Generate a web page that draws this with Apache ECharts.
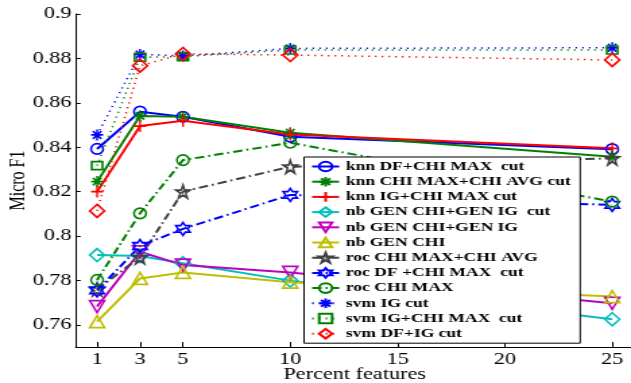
<!DOCTYPE html>
<html>
<head>
<meta charset="utf-8">
<script src="https://cdn.jsdelivr.net/npm/echarts@6/dist/echarts.min.js"></script>
<style>
html,body{margin:0;padding:0;background:#fff;overflow:hidden;}
#wrap{width:631px;height:383px;overflow:hidden;position:relative;}
#c{width:470px;height:383px;transform:scaleX(1.3483);transform-origin:0 0;}
</style>
</head>
<body>
<div id="wrap"><div id="c"></div></div>
<script>
// ---- data ----
const xValues = [1, 3, 5, 10, 25];
const xTickValues = [1, 3, 5, 10, 15, 20, 25];
const yTickValues = [0.76, 0.78, 0.8, 0.82, 0.84, 0.86, 0.88, 0.9];
const seriesNames = [
  'knn DF+CHI MAX  cut',
  'knn CHI MAX+CHI AVG cut',
  'knn IG+CHI MAX cut',
  'nb GEN CHI+GEN IG  cut',
  'nb GEN CHI+GEN IG',
  'nb GEN CHI',
  'roc CHI MAX+CHI AVG',
  'roc DF +CHI MAX  cut',
  'roc CHI MAX',
  'svm IG cut',
  'svm IG+CHI MAX  cut',
  'svm DF+IG cut'
];
const knnDfChiMaxCut   = [0.8392, 0.8560, 0.8537, 0.8447, 0.8391];
const knnChiMaxChiAvg  = [0.8245, 0.8541, 0.8537, 0.8465, 0.8357];
const knnIgChiMaxCut   = [0.8200, 0.8495, 0.8519, 0.8457, 0.8395];
const nbGenChiGenIgCut = [0.7914, 0.7910, 0.7877, 0.7799, 0.7625];
const nbGenChiGenIg    = [0.7682, 0.7929, 0.7869, 0.7836, 0.7697];
const nbGenChi         = [0.7614, 0.7809, 0.7836, 0.7792, 0.7727];
const rocChiMaxChiAvg  = [0.7760, 0.7904, 0.8200, 0.8312, 0.8350];
const rocDfChiMaxCut   = [0.7755, 0.7955, 0.8032, 0.8185, 0.8140];
const rocChiMax        = [0.7802, 0.8102, 0.8342, 0.8420, 0.8155];
const svmIgCut         = [0.8455, 0.8818, 0.8811, 0.8845, 0.8848];
const svmIgChiMaxCut   = [0.8317, 0.8805, 0.8808, 0.8838, 0.8838];
const svmDfIgCut       = [0.8113, 0.8767, 0.8820, 0.8815, 0.8793];

// ---- styles ----
const SYM = {
  circle: 'circle',
  asterisk: 'path://M0,5L10,5M5,0L5,10M1.5,1.5L8.5,8.5M8.5,1.5L1.5,8.5',
  plus: 'path://M0,5L10,5M5,0L5,10',
  diamond: 'path://M5,0L10,5L5,10L0,5Z',
  triDown: 'path://M0,0L10,0L5,9Z',
  triUp: 'path://M5,0L10,9L0,9Z',
  square: 'path://M0,0L10,0L10,10L0,10Z',
  pentagram: 'path://M5,0L6.12,3.455L9.755,3.455L6.82,5.59L7.94,9.045L5,6.91L2.06,9.045L3.18,5.59L0.245,3.455L3.88,3.455Z',
  hexagram: 'path://M5,0L6.44,2.5L9.33,2.5L7.89,5L9.33,7.5L6.44,7.5L5,10L3.56,7.5L0.67,7.5L2.11,5L0.67,2.5L3.56,2.5Z'
};
const DASHDOT = [7, 3, 1.5, 3];
const DOT = [1.2, 3.8];
const FONT = 'Liberation Serif';

function mk(name, data, color, symbol, size, dash, lw) {
  return {
    name: name,
    type: 'line',
    data: xValues.map(function (x, i) { return [x, data[i]]; }),
    symbol: symbol,
    symbolSize: size,
    showSymbol: true,
    lineStyle: { color: color, width: lw, type: dash },
    itemStyle: { color: 'rgba(0,0,0,0)', borderColor: color, borderWidth: 1.6 },
    emphasis: { disabled: true },
    animation: false
  };
}

const series = [
  mk(seriesNames[0], knnDfChiMaxCut, '#0000ff', SYM.circle, [9, 10.5], 'solid', 2),
  mk(seriesNames[1], knnChiMaxChiAvg, '#008000', SYM.asterisk, [9, 11], 'solid', 2),
  mk(seriesNames[2], knnIgChiMaxCut, '#ff0000', SYM.plus, [9, 12], 'solid', 2),
  mk(seriesNames[3], nbGenChiGenIgCut, '#00bfbf', SYM.diamond, [11, 13], 'solid', 2),
  mk(seriesNames[4], nbGenChiGenIg, '#bf00bf', SYM.triDown, [11, 12], 'solid', 2),
  mk(seriesNames[5], nbGenChi, '#bfbf00', SYM.triUp, [11, 12], 'solid', 2),
  mk(seriesNames[6], rocChiMaxChiAvg, '#404040', SYM.pentagram, [10.5, 13], DASHDOT, 2),
  mk(seriesNames[7], rocDfChiMaxCut, '#0000ff', SYM.hexagram, [10.5, 13], DASHDOT, 2),
  mk(seriesNames[8], rocChiMax, '#008000', SYM.circle, [9, 10.5], DASHDOT, 2),
  mk(seriesNames[9], svmIgCut, '#0000ff', SYM.asterisk, [9, 11], DOT, 1.5),
  mk(seriesNames[10], svmIgChiMaxCut, '#008000', SYM.square, [8, 8], DOT, 1.5),
  mk(seriesNames[11], svmDfIgCut, '#ff0000', SYM.diamond, [11, 13], DOT, 1.5)
];

const chart = echarts.init(document.getElementById('c'), null, { renderer: 'canvas' });
chart.setOption({
  animation: false,
  backgroundColor: '#fff',
  grid: { left: 56.1, right: 0, top: 14, bottom: 36, containLabel: false, outerBoundsMode: 'none' },
  xAxis: {
    type: 'value', min: 0, max: 26,
    name: 'Percent features', nameLocation: 'middle', nameGap: 19, nameMoveOverlap: false,
    nameTextStyle: { fontFamily: FONT, fontSize: 16.5, color: '#000' },
    axisLine: { show: true, onZero: false, lineStyle: { color: '#000', width: 1 } },
    axisTick: { show: true, inside: true, length: 5, customValues: xTickValues, lineStyle: { color: '#000' } },
    axisLabel: { show: true, customValues: xTickValues, margin: 4, fontFamily: FONT, fontSize: 16.5, color: '#000' },
    splitLine: { show: false }
  },
  yAxis: {
    type: 'value', min: 0.75, max: 0.9,
    name: 'Micro F1', nameLocation: 'middle', nameGap: 34, nameMoveOverlap: false,
    nameTextStyle: { fontFamily: FONT, fontSize: 16, color: '#000' },
    axisLine: { show: true, onZero: false, lineStyle: { color: '#000', width: 1 } },
    axisTick: { show: true, inside: true, length: 3.7, customValues: yTickValues, lineStyle: { color: '#000' } },
    axisLabel: { show: true, customValues: yTickValues, margin: 3, fontFamily: FONT, fontSize: 16.5, color: '#000' },
    splitLine: { show: false }
  },
  legend: {
    orient: 'vertical',
    left: 225.5, top: 157,
    padding: [3, 7, 3, 5],
    itemWidth: 20, itemHeight: 12, itemGap: 2.2,
    borderColor: '#000', borderWidth: 1, backgroundColor: '#fff',
    textStyle: { fontFamily: FONT, fontWeight: 'bold', fontSize: 13, color: '#000' },
    data: seriesNames
  },
  series: series
});
</script>
</body>
</html>
